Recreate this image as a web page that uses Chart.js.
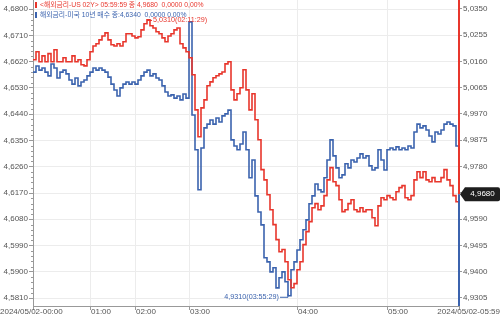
<!DOCTYPE html>
<html>
<head>
<meta charset="utf-8">
<script src="https://cdn.jsdelivr.net/npm/chart.js@4.4.1/dist/chart.umd.min.js"></script>
<style>
  html, body { margin: 0; padding: 0; background: #fff; }
</style>
</head>
<body>
<canvas id="rateChart" width="500" height="319"></canvas>
<script>
// US 2Y (right axis) and KR 10Y (left axis), one value per sample step
const us02y = [
  5.0166, 5.0195, 5.0159, 5.0180, 5.0159, 5.0188, 5.0159, 5.0202, 5.0159, 5.0159,
  5.0173, 5.0159, 5.0159, 5.0180, 5.0159, 5.0166, 5.0148, 5.0144, 5.0166, 5.0195,
  5.0216, 5.0224, 5.0238, 5.0252, 5.0263, 5.0238, 5.0220, 5.0216, 5.0224, 5.0216,
  5.0231, 5.0260, 5.0260, 5.0252, 5.0245, 5.0249, 5.0274, 5.0296, 5.0310, 5.0289,
  5.0281, 5.0267, 5.0260, 5.0245, 5.0231, 5.0252, 5.0260, 5.0274, 5.0281, 5.0224,
  5.0209, 5.0195, 5.0173, 5.0112, 4.9985, 4.9888, 4.9992, 5.0021, 5.0072, 5.0086,
  5.0101, 5.0108, 5.0115, 5.0122, 5.0151, 5.0159, 5.0057, 5.0021, 5.0043, 5.0065,
  5.0130, 5.0057, 4.9985, 5.0043, 4.9949, 4.9877, 4.9769, 4.9732, 4.9678, 4.9624,
  4.9570, 4.9516, 4.9472, 4.9480, 4.9436, 4.9371, 4.9342, 4.9357, 4.9407, 4.9436,
  4.9498, 4.9545, 4.9581, 4.9631, 4.9646, 4.9624, 4.9638, 4.9675, 4.9732, 4.9776,
  4.9725, 4.9711, 4.9660, 4.9617, 4.9624, 4.9646, 4.9660, 4.9624, 4.9617, 4.9631,
  4.9617, 4.9624, 4.9624, 4.9595, 4.9566, 4.9638, 4.9667, 4.9660, 4.9675, 4.9667,
  4.9660, 4.9689, 4.9704, 4.9711, 4.9667, 4.9660, 4.9675, 4.9732, 4.9761, 4.9740,
  4.9761, 4.9732, 4.9725, 4.9740, 4.9725, 4.9725, 4.9740, 4.9769, 4.9732, 4.9711,
  4.9675, 4.9653, 4.9680
];

const kr10y = [
  4.6584, 4.6605, 4.6591, 4.6598, 4.6584, 4.6571, 4.6612, 4.6598, 4.6564, 4.6584,
  4.6591, 4.6578, 4.6557, 4.6543, 4.6564, 4.6537, 4.6550, 4.6557, 4.6571, 4.6584,
  4.6598, 4.6591, 4.6598, 4.6591, 4.6584, 4.6567, 4.6543, 4.6523, 4.6502, 4.6530,
  4.6543, 4.6550, 4.6543, 4.6550, 4.6543, 4.6557, 4.6571, 4.6584, 4.6591, 4.6571,
  4.6578, 4.6564, 4.6557, 4.6537, 4.6516, 4.6502, 4.6506, 4.6495, 4.6502, 4.6489,
  4.6509, 4.6495, 4.6756, 4.6437, 4.6318, 4.6181, 4.6324, 4.6393, 4.6406, 4.6420,
  4.6406, 4.6427, 4.6413, 4.6434, 4.6441, 4.6454, 4.6352, 4.6331, 4.6318, 4.6338,
  4.6379, 4.6318, 4.6222, 4.6283, 4.6160, 4.6105, 4.6061, 4.5948, 4.5934, 4.5900,
  4.5914, 4.5845, 4.5880, 4.5900, 4.5866, 4.5818, 4.5907, 4.5934, 4.5975, 4.6010,
  4.6044, 4.6078, 4.6133, 4.6160, 4.6201, 4.6181, 4.6174, 4.6222, 4.6283, 4.6352,
  4.6297, 4.6256, 4.6222, 4.6232, 4.6270, 4.6256, 4.6283, 4.6276, 4.6290, 4.6304,
  4.6290, 4.6297, 4.6263, 4.6249, 4.6256, 4.6318, 4.6283, 4.6249, 4.6318, 4.6324,
  4.6318, 4.6328, 4.6318, 4.6324, 4.6318, 4.6331, 4.6324, 4.6379, 4.6406, 4.6393,
  4.6400, 4.6386, 4.6365, 4.6345, 4.6379, 4.6372, 4.6386, 4.6406, 4.6413, 4.6406,
  4.6400, 4.6331, 4.6340
];

const timeTickIdx = [0, 19, 34, 52, 88, 118, 142];
const timeTickLabels = ["2024/05/02-00:00", "01:00", "02:00", "03:00", "04:00", "05:00", "2024/05/02-05:59"];

const leftTicks = [4.6800, 4.6710, 4.6620, 4.6530, 4.6440, 4.6350, 4.6260, 4.6170, 4.6080, 4.5990, 4.5900, 4.5810];
const rightTicks = [5.0350, 5.0255, 5.0160, 5.0065, 4.9970, 4.9875, 4.9780, 4.9685, 4.9590, 4.9495, 4.9400, 4.9305];

const legendLines = [
  "<해외금리-US 02Y> 05:59:59 종 4,9680  0,0000 0,00%",
  "해외금리-미국 10년 매수 종:4,6340  0,0000 0,00%"
];
const highTime = "(02:11:29)";
const lowNote = "4,9310(03:55:29)";

const RED = "#e8362c";
const BLUE = "#3b63ae";
const TEXT = "#555";
const FONT = "'Liberation Sans', 'Noto Sans CJK KR', sans-serif";

const fmt = (v) => v.toFixed(4).replace(".", ",");

const overlay = {
  id: "overlay",
  afterDatasetsDraw(chart) {
    const ctx = chart.ctx;
    const area = chart.chartArea;
    const x = chart.scales.x;
    const yL = chart.scales.yL;
    const yR = chart.scales.yR;
    ctx.save();

    // left axis minor ticks
    ctx.strokeStyle = "#999";
    ctx.lineWidth = 1;
    for (let k = 0; k < leftTicks.length - 1; k++) {
      const a = yL.getPixelForValue(leftTicks[k]);
      const b = yL.getPixelForValue(leftTicks[k + 1]);
      for (let m = 1; m < 5; m++) {
        const py = Math.round(a + (b - a) * m / 5) + 0.5;
        ctx.beginPath();
        ctx.moveTo(area.left - 2, py);
        ctx.lineTo(area.left, py);
        ctx.stroke();
      }
    }

    // right axis line: red above the last US value, blue below
    const lastR = us02y[us02y.length - 1];
    const tagY = yR.getPixelForValue(lastR);
    ctx.lineWidth = 2;
    ctx.strokeStyle = RED;
    ctx.beginPath();
    ctx.moveTo(area.right, area.top);
    ctx.lineTo(area.right, tagY);
    ctx.stroke();
    ctx.strokeStyle = BLUE;
    ctx.beginPath();
    ctx.moveTo(area.right, tagY);
    ctx.lineTo(area.right, area.bottom);
    ctx.stroke();

    // time labels
    ctx.font = "8px " + FONT;
    ctx.fillStyle = TEXT;
    ctx.textBaseline = "middle";
    timeTickIdx.forEach((t, k) => {
      const px = x.getPixelForValue(t);
      if (k === 0) {
        ctx.textAlign = "left";
        ctx.fillText(timeTickLabels[k], 0, area.bottom + 6);
      } else if (k === timeTickIdx.length - 1) {
        ctx.textAlign = "right";
        ctx.fillText(timeTickLabels[k], chart.width, area.bottom + 6);
      } else {
        ctx.textAlign = "left";
        ctx.fillText(timeTickLabels[k], px + 1, area.bottom + 6);
      }
    });

    // legend
    ctx.textAlign = "left";
    ctx.font = "6.8px " + FONT;
    [RED, BLUE].forEach((c, k) => {
      const ly = 5 + k * 10;
      ctx.fillStyle = c;
      ctx.fillRect(area.left + 2, ly - 3, 2, 6);
      ctx.fillText(legendLines[k], area.left + 7, ly);
    });

    // high note on US 2Y
    let hi = 0;
    us02y.forEach((v, i) => { if (v > us02y[hi]) hi = i; });
    const hx = x.getPixelForValue(hi);
    const hy = yR.getPixelForValue(us02y[hi]);
    ctx.strokeStyle = RED;
    ctx.lineWidth = 1;
    ctx.beginPath();
    ctx.moveTo(hx, hy + 0.5);
    ctx.lineTo(hx + 5, hy + 0.5);
    ctx.stroke();
    ctx.fillStyle = RED;
    ctx.font = "7.2px " + FONT;
    ctx.fillText(fmt(us02y[hi]) + highTime, hx + 6, hy);

    // low note on KR 10Y
    let lo = 0;
    kr10y.forEach((v, i) => { if (v < kr10y[lo]) lo = i; });
    const lx = x.getPixelForValue(lo);
    const ly = yL.getPixelForValue(kr10y[lo]) + 1;
    ctx.strokeStyle = BLUE;
    ctx.beginPath();
    ctx.moveTo(lx - 8, ly + 0.5);
    ctx.lineTo(lx, ly + 0.5);
    ctx.lineTo(lx, ly - 3);
    ctx.stroke();
    ctx.fillStyle = BLUE;
    ctx.textAlign = "right";
    ctx.fillText(lowNote, lx - 9, ly);

    // last value tag
    const tx = area.right + 1;
    ctx.fillStyle = "#1e1e1e";
    ctx.beginPath();
    ctx.moveTo(tx, tagY);
    ctx.lineTo(tx + 5, tagY - 7);
    ctx.lineTo(chart.width - 2, tagY - 7);
    ctx.quadraticCurveTo(chart.width, tagY - 7, chart.width, tagY - 5);
    ctx.lineTo(chart.width, tagY + 5);
    ctx.quadraticCurveTo(chart.width, tagY + 7, chart.width - 2, tagY + 7);
    ctx.lineTo(tx + 5, tagY + 7);
    ctx.closePath();
    ctx.fill();
    ctx.fillStyle = "#fff";
    ctx.textAlign = "center";
    ctx.font = "8px " + FONT;
    ctx.fillText(fmt(lastR), (tx + 5 + chart.width) / 2, tagY);

    ctx.restore();
  }
};

const ctx = document.getElementById("rateChart").getContext("2d");

new Chart(ctx, {
  type: "line",
  data: {
    datasets: [
      {
        label: "US 02Y",
        data: us02y.map((v, i) => ({ x: i, y: v })),
        borderColor: RED,
        borderWidth: 1.6,
        pointRadius: 0,
        stepped: true,
        yAxisID: "yR",
      },
      {
        label: "KR 10Y",
        data: kr10y.map((v, i) => ({ x: i, y: v })),
        borderColor: BLUE,
        borderWidth: 1.6,
        pointRadius: 0,
        stepped: true,
        yAxisID: "yL",
      },
    ],
  },
  options: {
    responsive: false,
    animation: false,
    layout: { padding: 0 },
    plugins: {
      legend: { display: false },
      tooltip: { enabled: false },
    },
    scales: {
      x: {
        type: "linear",
        min: 0,
        max: 142,
        afterBuildTicks: (s) => { s.ticks = timeTickIdx.map((v) => ({ value: v })); },
        afterFit: (s) => { s.height = 13; s.paddingLeft = 0; s.paddingRight = 0; },
        ticks: { display: false },
        grid: { color: "#ececec", tickLength: 4, tickColor: "#999" },
        border: { color: "#999" },
      },
      yL: {
        position: "left",
        min: 4.5783,
        max: 4.6831,
        afterBuildTicks: (s) => { s.ticks = leftTicks.map((v) => ({ value: v })); },
        afterFit: (s) => { s.width = 33; s.paddingTop = 0; s.paddingBottom = 0; },
        ticks: {
          callback: (v) => fmt(v),
          color: TEXT,
          padding: 1,
          font: { family: FONT, size: 8 },
        },
        grid: { color: "#ececec", tickLength: 4, tickColor: "#999" },
        border: { color: "#999" },
      },
      yR: {
        position: "right",
        min: 4.9276,
        max: 5.0382,
        afterBuildTicks: (s) => { s.ticks = rightTicks.map((v) => ({ value: v })); },
        afterFit: (s) => { s.width = 41; s.paddingTop = 0; s.paddingBottom = 0; },
        ticks: {
          callback: (v) => fmt(v),
          color: TEXT,
          padding: 1,
          font: { family: FONT, size: 8 },
        },
        grid: { drawOnChartArea: false, tickLength: 3, tickColor: "#999" },
        border: { display: false },
      },
    },
  },
  plugins: [overlay],
});
</script>
</body>
</html>
